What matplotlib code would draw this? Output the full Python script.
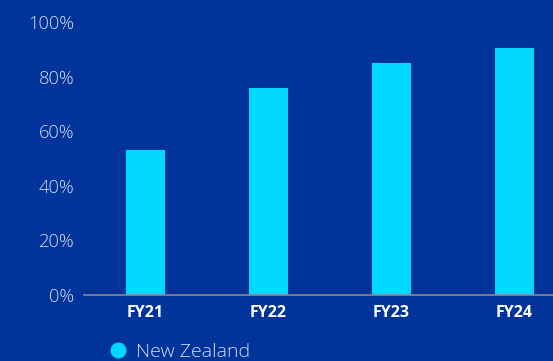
import matplotlib
matplotlib.use("Agg")
import matplotlib.pyplot as plt
from matplotlib.lines import Line2D

categories = ["FY21", "FY22", "FY23", "FY24"]
values = [53, 76, 85, 90.5]
series_name = "New Zealand"
y_ticks = [0, 20, 40, 60, 80, 100]
y_tick_labels = ["0%", "20%", "40%", "60%", "80%", "100%"]

bg = "#00349A"
bar_color = "#00D8FF"
label_color = "#D6DEF2"

plt.rcParams["font.family"] = ["Open Sans", "DejaVu Sans"]

fig = plt.figure(figsize=(5.53, 3.61), dpi=100, facecolor=bg)
# axes runs past the right edge of the figure
ax = fig.add_axes([84 / 553, 1 - 295 / 361, 492 / 553, (295 - 22) / 361])
ax.set_facecolor(bg)

x = range(len(categories))
ax.bar(x, values, width=0.317, color=bar_color, zorder=2)

ax.set_xlim(-0.5, len(categories) - 0.5)
ax.set_ylim(0, 100)
ax.set_yticks(y_ticks)
ax.set_yticklabels(y_tick_labels, color=label_color, fontsize=13.2, fontweight="light")
ax.set_xticks(list(x))
ax.set_xticklabels(categories, color="white", fontsize=11.5, fontweight="bold")
ax.tick_params(axis="both", length=0)
ax.tick_params(axis="y", pad=7)
ax.tick_params(axis="x", pad=7)

for side in ["top", "right", "left"]:
    ax.spines[side].set_visible(False)
ax.spines["bottom"].set_color("#8A8A8A")
ax.spines["bottom"].set_linewidth(1.2)

handle = Line2D([], [], marker="o", linestyle="none", markersize=10.5,
                markerfacecolor=bar_color, markeredgecolor=bar_color)
fig.legend([handle], [series_name], loc="center left",
           bbox_to_anchor=(108 / 553, 1 - 352 / 361), frameon=False,
           handlelength=1.0, handletextpad=0.45, borderpad=0, borderaxespad=0,
           labelcolor=label_color,
           prop={"size": 14, "weight": "light", "family": ["Open Sans", "DejaVu Sans"]})

fig.savefig("out.png", dpi=100, facecolor=bg)
